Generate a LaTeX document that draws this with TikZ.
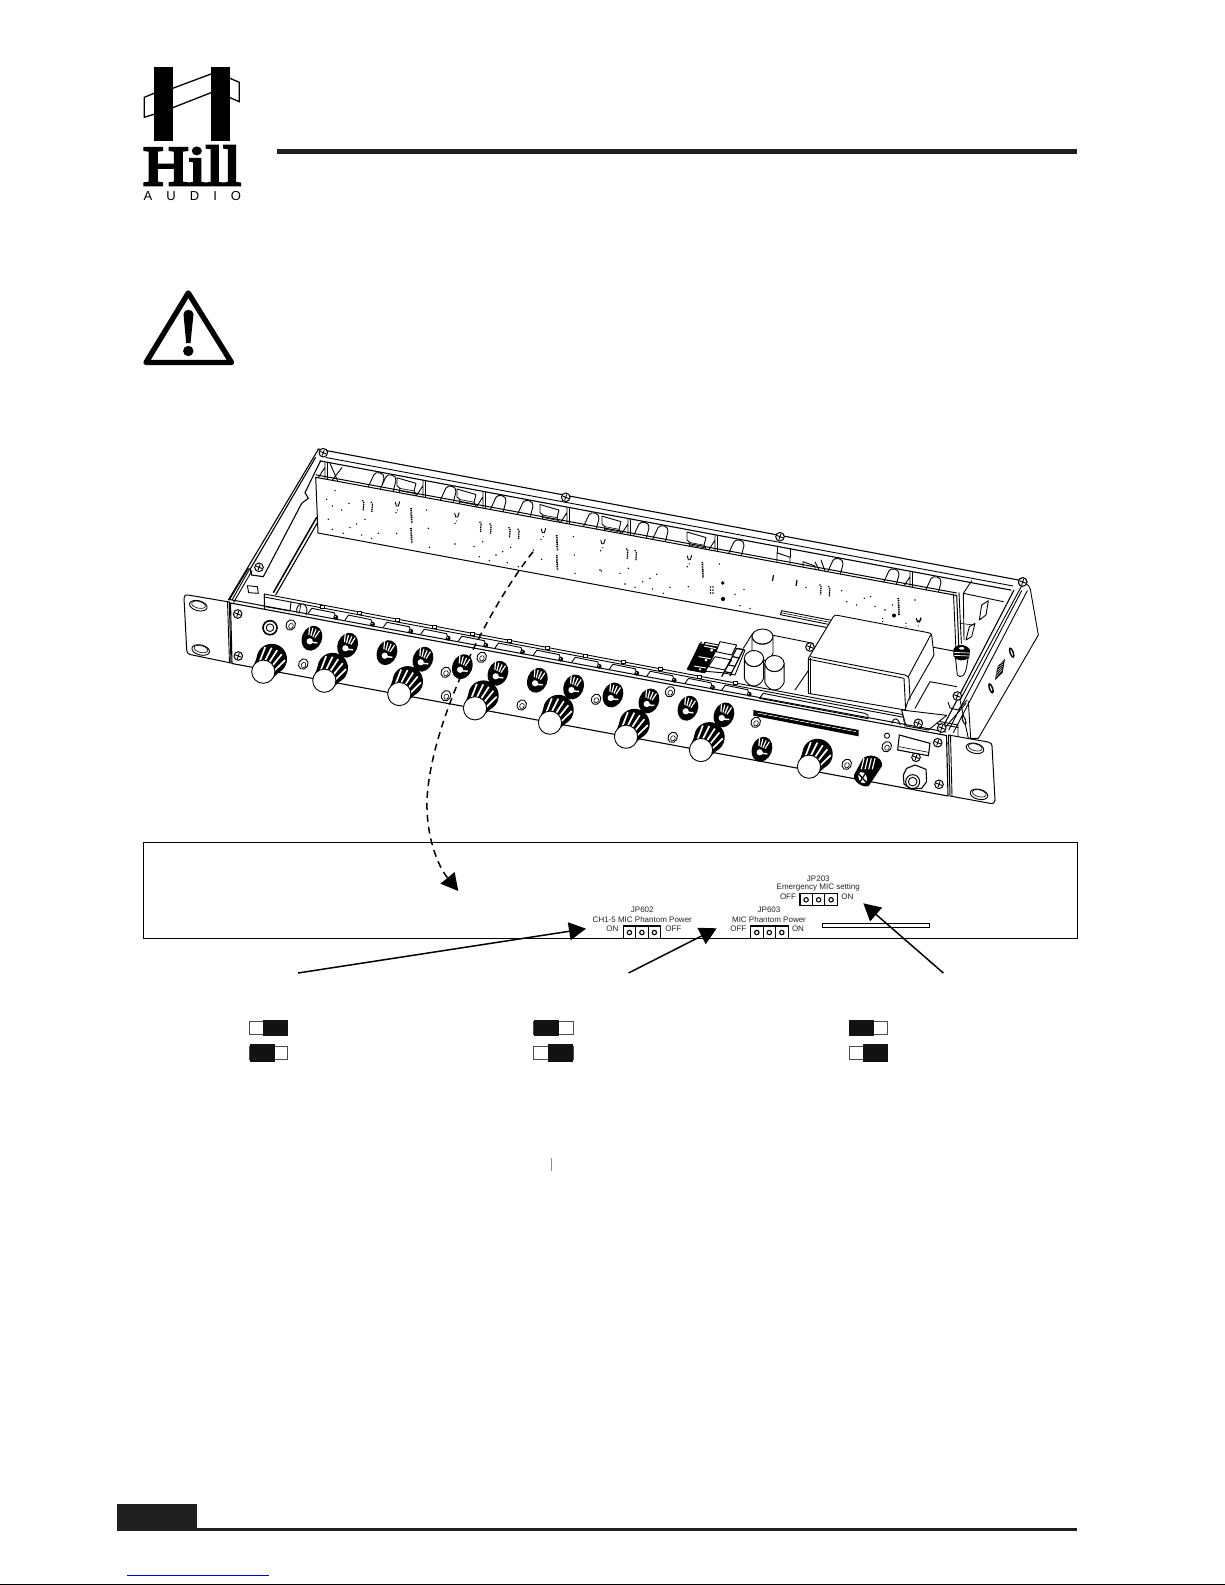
\documentclass[tikz,border=0pt]{standalone}
\usepackage{fontspec}
\setmainfont{Liberation Sans}
\newfontfamily\hillfont[FakeBold=5]{Liberation Serif}
\usetikzlibrary{arrows.meta}
\tikzset{
  dev/.style={line width=0.9pt,line join=round,line cap=round},
  thin dev/.style={line width=0.6pt,line join=round,line cap=round},
  zA/.style={shift={(170,440)},x=0.33333pt,y=-0.33333pt},
  zB/.style={shift={(600,480)},x=0.33333pt,y=-0.33333pt},
  zC/.style={shift={(680,610)},x=0.33333pt,y=-0.33333pt},
  zD/.style={shift={(940,560)},x=0.33333pt,y=-0.33333pt},
  wall/.style={shift={(318,449)},x={(1pt,-0.187pt)},y={(0pt,-1pt)}},
  jplabel/.style={font=\fontsize{8}{8.4}\selectfont,inner sep=0pt,text=black!85},
  jpbox/.style={draw=black,line width=1.1pt,fill=white},
  pull/.style={line width=1.5pt,draw=black,-{Triangle[length=17pt,width=18pt]}},
  toggleoff/.style={draw=black!70,line width=0.7pt,fill=white},
  toggleon/.style={fill=black!93,draw=none},
}
% big knob: cap centre
\newcommand{\bigknob}[2]{\begin{scope}[shift={(#1,#2)},x=1pt,y=-1pt]
  \fill[black] (-9.5,-6.3) -- (-4,-21) -- (21,-4.4) -- (9.5,6.3) -- cycle;
  \fill[black] (8.5,-12.7) circle (15.2);
  \foreach \t in {-0.8,-0.42,-0.02,0.38,0.78}{
    \pgfmathsetmacro{\s}{sqrt(1-\t*\t)}
    \draw[white,line width=1.7pt] ({\t*9.1+\s*6.1},{\t*6.1-\s*9.1}) -- ({8.5+\t*12.5+\s*5.6},{-12.7+\t*8.3-\s*8.6});
  }
  \draw[line width=0.9pt,fill=white] (0,0) circle (11.6);
\end{scope}}
% small knob: centre
\newcommand{\smallknob}[2]{\begin{scope}[shift={(#1,#2)},x=1pt,y=-1pt]
  \fill[black,rotate=-22] (0,1) ellipse (10 and 12.8);
  \foreach \t in {-0.8,-0.27,0.27,0.8}
    \draw[white,line width=1.2pt] ({\t*3.8-0.4},{\t*1.6-1}) -- ({\t*6.2+2.2},{\t*2.6-8.6});
  \fill[white] (-2.6,4) circle (3.1);
  \draw[white,line width=1.5pt] (-1,5) -- (5,5.5);
\end{scope}}
\newcommand{\screw}[2]{\begin{scope}[shift={(#1,#2)},x=1pt,y=-1pt]
  \draw[line width=1pt,fill=white] (0,0) circle (4.3);
  \draw[line width=0.9pt] (-3,-1.2) -- (3,1.2) (-1,2.8) -- (1,-2.8);
\end{scope}}
\newcommand{\led}[2]{\begin{scope}[shift={(#1,#2)},x=1pt,y=-1pt]
  \draw[dev,fill=white,rotate=-30] (0,0) ellipse (4.6 and 5.4);
  \draw[thin dev,rotate=-30] (0.7,0.7) ellipse (2.2 and 2.7);
\end{scope}}
\newcommand{\earhole}[2]{\begin{scope}[shift={(#1,#2)},x=1pt,y=-1pt]
  \draw[dev,fill=white,rotate=-14] (0,0) ellipse (9 and 5);
  \draw[thin dev,rotate=-14] (0,-1) ellipse (7 and 3.4);
\end{scope}}
\newcommand{\wslot}[1]{\draw[dev,fill=white] (#1,29) -- ({#1+6},15) .. controls ({#1+8},11) and ({#1+17},11) .. ({#1+16},17) -- ({#1+13},29);}
\newcommand{\wconn}[1]{\draw[dev,fill=white] (#1,14) -- ({#1+19},16) -- ({#1+17},24) -- ({#1+20},29) -- ({#1+2},29) -- ({#1+3},24) -- (#1,22) -- cycle;
  \draw[thin dev] ({#1+3},24) -- ({#1+17},24) ({#1+3},26.5) -- ({#1+18},26.5);}
\newcommand{\wpillar}[1]{\draw[dev] (#1,12) -- (#1,29) ({#1+2.5},12) -- ({#1+2.5},29) ({#1-7},29) -- (#1,17);}
\newcommand{\pintrip}[2]{\begin{scope}[shift={(#1,#2)},x=1pt,y=-1pt]
  \foreach \k in {-5,-3.2,-1.4,0.4,2.2,4}{\fill ({0.6*mod(\k+5,2)},\k) circle (0.85);}
\end{scope}}
\newcommand{\ucomp}[2]{\begin{scope}[shift={(#1,#2)},x=1pt,y=-1pt]
  \draw[line width=0.9pt] (-2,-2) -- (-1,2) -- (1,2) -- (2.5,-2.5);
  \fill (0,6) circle (0.6);
\end{scope}}
\newcommand{\pottab}[1]{\begin{scope}[shift={(#1,{608.3+0.186*(#1-308.3)})},x=1pt,y=-1pt]
  \draw[dev,fill=white] (0,5) -- (3.5,0) -- (26,4.5) -- (27.5,9.5);
  \draw[thin dev,fill=white] (12,-3.5) rectangle (16,-0.5);
  \fill (27.5,9) circle (2.4);
  \fill[white] (27,8.5) circle (0.7);
\end{scope}}
\newcommand{\capac}[5]{\draw[dev,fill=white] ({#1-#3},#2) -- ({#1-#3},{#2+#5}) .. controls ({#1-#3+4},{#2+#5+#4+2}) and ({#1+#3-4},{#2+#5+#4+2}) .. ({#1+#3},{#2+#5}) -- ({#1+#3},#2);
  \draw[dev,fill=white] (#1,#2) ellipse (#3 and #4);
  \draw[line width=0.5pt] ({#1-#3+0.3},{#2+1.6}) .. controls ({#1-#3+4},{#2+#4+2.6}) and ({#1+#3-4},{#2+#4+2.6}) .. ({#1+#3-0.3},{#2+1.6});}
\begin{document}
\begin{tikzpicture}[x=1pt,y=-1pt]
\useasboundingbox (0,0) rectangle (1225,1585);
\fill[white] (0,0) rectangle (1225,1585);

% ---- logo
\fill[black] (154,66.7) rectangle (172.7,140.7);
\fill[black] (211,66.7) rectangle (230,140.7);
\draw[line width=1.3pt,line join=miter] (154,93.3) -- (144.3,97.3) -- (144.3,117.3) -- (154,114.3);
\draw[line width=1.3pt] (172.7,88.3) -- (211,74) (172.7,107.7) -- (211,92.7);
\draw[line width=1.3pt,line join=miter] (230,78.3) -- (239.3,82.3) -- (239.3,101.7) -- (230,97.7);
\node[anchor=base west,inner sep=0pt,xscale=1.12] (hillword) at (143,185) {\fontsize{56}{56}\hillfont Hill};
\node[anchor=base west,inner sep=0pt] (audioword) at (143.5,200) {\fontsize{13}{13}\selectfont\addfontfeature{LetterSpace=108}AUDIO};

% ---- header and footer rules
\fill[black!88] (277,149) rectangle (1077,154);
\fill[black!88,fill=black!88] (117,1504) rectangle (197,1531);
\fill[black!88] (117,1528) rectangle (1077,1531);
\draw[blue!80!black,line width=1pt] (127,1575.5) -- (269,1575.5);
\draw[black,line width=1pt] (0,1584.6) -- (1225,1584.6);

% ---- warning triangle
\draw[line width=5.4pt,line join=round,fill=white] (188.3,293) -- (231.5,362.5) -- (146,362.5) -- cycle;
\fill[black] (183.5,314) .. controls (183.5,308.5) and (193.5,308.5) .. (193.5,314) -- (190.5,343) -- (186.2,343) -- cycle;
\fill[black] (188.3,351) circle (5.2);

% ---- settings box
\draw[black,line width=1pt] (143.5,842) rectangle (1077,938);
\draw[black,line width=1pt,fill=white] (822.3,923.3) rectangle (929.3,927.3);

% ---- chassis: back wall
\begin{scope}[wall]
  \draw[line width=1.1pt,line cap=round] (0,0) -- (702,0);
  \draw[dev] (8,7) -- (695,7);
  \draw[line width=1.1pt,line cap=round] (2,11.5) -- (693,11.5);
  \wpillar{7}
  \draw[dev] (12,12) -- (20,29) (24,14) -- (14,29);
  \foreach \u in {50,62,122,172,199,265,315,334,410,509,565,607} {\wslot{\u}}
  \foreach \u in {79,139,222,284,369} {\wconn{\u}}
  \foreach \u in {105,165,249,310,397,592} {\wpillar{\u}}
  \draw[dev,fill=white] (459,18) -- (472,20) -- (472,29) -- (459,29) -- cycle;
  \draw[dev] (459,11) -- (459,18) (472,11) -- (472,20);
  \draw[dev,fill=white] (485,22) -- (497,24) -- (497,31) -- (485,30) -- cycle;
  \draw[dev] (497,20) -- (503,31) (503,17) -- (508,30);
\end{scope}

% ---- chassis: right rear corner and right side wall
\begin{scope}[zD]
  \draw[dev] (70,100) -- (95,62) (70,100) -- (72,240) (57,98) -- (64,250);
  \draw[dev] (70,100) -- (190,125);
  \draw[dev,fill=white] (118,180) -- (125,135) -- (145,122) -- (138,165) -- cycle;
  \draw[dev,fill=white] (78,240) -- (88,200) -- (105,190) -- (95,230) -- cycle;
  \draw[thin dev] (60,190) -- (100,195);
\end{scope}

% ---- chassis: left wall
\begin{scope}[zA]
  \draw[line width=1.1pt] (445,28) -- (175,480);
  \draw[line width=1.1pt] (437,52) -- (242,385);
  \draw[line width=1.1pt] (452,62) -- (405,158) -- (415,175) -- (395,190) -- (280,410) -- (245,405) -- (240,385);
  \draw[line width=1.5pt] (440,232) -- (310,458);
  \draw[line width=1.1pt] (447,240) -- (317,465);
  \draw[dev] (235,385) -- (178,480) (240,385) -- (186,480) (246,392) -- (191,487);
  \draw[dev,fill=white] (232,437) -- (262,440) -- (265,460) -- (236,458) -- cycle;
\end{scope}
\screw{259}{567.3}
\screw{323.3}{452.7}
\screw{565.7}{497.3}
\screw{780}{536.7}
\screw{1022.7}{582}

% ---- PCB
\draw[line width=1pt,line join=round,fill=white] (315.7,477.3) -- (956.7,595.5) -- (959,652) -- (318,533) -- cycle;
\draw[line width=1pt] (315.7,474.8) -- (956.7,593);
\draw[dev] (953.5,594) -- (956,651);
\foreach \x/\y in {362.7/505.7,371.3/507.3,480/527.3,490/529,509/532.7,518/534.3,626.7/554,635.3/555.7,820/590,828.7/591.7}{\pintrip{\x}{\y}}
\foreach \x/\a/\b in {411/508/523,411/528/543,556.7/535/551,556.7/555/570,702.3/562/578,898.3/598/615}
  {\draw[line width=1.7pt,dash pattern=on 1.1pt off 0.7pt] (\x,\a) -- ({\x+0.8},\b);}
\foreach \x/\y in {397.3/504,456.7/515,543.3/530.7,602.7/541.7,689.3/557.7,918.3/620}{\ucomp{\x}{\y}}
\fill (722.7,583) circle (1.9) (723,599) circle (2.1) (894,615.5) circle (2);
\draw[line width=1.2pt] (773.5,575) -- (772.5,581) (797,580) -- (796,586);
\fill (710.5,587) circle (0.9) (710.5,590) circle (0.9) (710.5,593) circle (0.9) (713,587) circle (0.9) (713,590) circle (0.9) (713,593) circle (0.9);
\begin{scope}[zA]
  \foreach \x/\y in {495/152,470/178,487/198,515/210,537/190,475/238,560/252,540/263,487/268,520/280,575/285,605/295,625/280,680/280,585/238,678/218,770/210,775/265,778/322,855/250,855/312,912/320,938/305,978/345,998/335,1022/322,928/350,958/362,1012/368,1045/380,1113/298,1090/330,1115/358,1210/290,1213/345,1215/400,1292/332,1295/393}
    {\fill (\x,\y) circle (2.3);}
\end{scope}
\begin{scope}[zB]
  \foreach \x/\y in {85/265,60/280,128/305,150/295,170/283,105/322,158/327,190/340,210/322,265/320,262/260,358/252,405/343,432/328,420/377,450/385,618/323,725/332,740/365,770/375,793/355,812/350,825/380,855/390,878/375,945/360,0/270,75/312}
    {\fill (\x,\y) circle (2.3);}
\end{scope}

% ---- interior: rail, lines, transformer, capacitors, terminal block
\begin{scope}[zB]
  \draw[dev,fill=white] (545,392) -- (700,422) -- (700,436) -- (541,404) -- cycle;
  \draw[thin dev] (543,398) -- (700,429);
  \draw[dev] (515,465) -- (640,490);
  \draw[dev] (585,630) -- (640,550);
  \draw[dev] (945,685) -- (990,605) -- (1070,620);
  % transformer
  \draw[dev,fill=white] (625,640) -- (625,535) -- (700,410) .. controls (703,405) and (708,405) .. (712,406) -- (985,458) .. controls (992,459) and (995,462) .. (995,466) -- (1002,525) -- (925,660) -- (915,690) -- cycle;
  \draw[dev] (632,530) -- (915,585) .. controls (922,587) and (925,590) .. (927,596) -- (930,660);
  \draw[dev] (627,538) -- (912,595) -- (917,690);
  \draw[dev] (925,590) -- (992,465);
  \draw[dev] (632,535) -- (632,640);
  \fill (848,415) circle (2) (848,425) circle (2) (918,430) circle (2) (918,440) circle (2);
  \draw[dev] (952,420) -- (958,426) -- (964,416);
  % standoff nut
  \draw[dev,fill=white] (1066,530) -- (1072,585) .. controls (1082,595) and (1095,590) .. (1100,560) -- (1105,530);
  \fill[black] (1060,510) .. controls (1065,490) and (1100,490) .. (1110,510) -- (1108,532) .. controls (1095,545) and (1070,545) .. (1060,528) -- cycle;
  \draw[white,line width=0.7pt] (1062,517) -- (1108,519) (1062,526) -- (1108,528);
  \fill[white] (1085,505) ellipse (8 and 4);
\end{scope}
\screw{810}{647}
\capac{762.5}{636.5}{10.5}{7.5}{17}
\capac{754}{658.5}{9.6}{8}{20}
\capac{774.5}{663.5}{9.6}{8}{19}
\begin{scope}[zC]
  \draw[dev] (218,70) -- (190,115);
  \draw[dev,fill=white] (75,97) -- (195,120) -- (165,195) -- (125,188) -- (30,180) -- cycle;
  \draw[line width=1.2pt] (64,96) -- (22,178) (75,97) -- (35,180);
  \fill[black] (58,100) -- (115,110) -- (75,190) -- (22,180) -- cycle;
  \fill[white] (95,120) circle (5) (78,150) circle (5) (60,178) circle (4);
  \draw[white,line width=1pt] (72,108) -- (108,116) (56,140) -- (92,146) (42,168) -- (78,174);
  \draw[dev,fill=white] (120,95) -- (170,105) -- (155,135) -- (108,125) -- cycle;
  \draw[dev,fill=white] (105,140) -- (155,150) -- (135,180) -- (85,170) -- cycle;
  \draw[line width=1.2pt] (170,115) -- (190,119) (158,140) -- (178,144) (146,165) -- (166,169) (134,185) -- (154,189);
  \draw[line width=1.2pt] (170,115) -- (125,200) (190,119) -- (150,198);
\end{scope}

% ---- front rail and pot tabs
\draw[dev,fill=white] (264.3,594) -- (958,725) -- (958,745) -- (264.3,620) -- cycle;
\draw[dev] (264.3,597) -- (958,727.5);
\draw[dev] (264.3,594) -- (264.6,604);
\draw[dev] (264.5,606.5) -- (290,611) -- (291,602);
\draw[dev,fill=white] (297,613) .. controls (295,607) and (300,603) .. (303,604) .. controls (307,605) and (308,610) .. (306,615);
\draw[thin dev] (301,604) -- (299,614);
\foreach \x in {308.3,345,383.3,420.7,458.3,495,533.3,571.7,609.3,646.7,685,721.7}{\pottab{\x}}
\begin{scope}[zB]
  \draw[dev,fill=white] (478,655) -- (490,640) -- (795,700) .. controls (803,702) and (808,708) .. (804,716) -- cycle;
  \draw[thin dev] (905,690) -- (915,740);
  \draw[dev,fill=white] (905,690) -- (1040,706) -- (985,750) -- (918,738) -- cycle;
  \draw[dev] (875,730) .. controls (880,712) and (895,710) .. (900,735);
\end{scope}

% ---- right side flange
\begin{scope}[zD]
  \draw[dev,fill=white] (248,72) .. controls (265,70) and (270,80) .. (271,88) -- (295,225) -- (115,535) -- (85,535) -- (60,420) -- cycle;
  \draw[line width=1.1pt] (222,90) -- (12,495);
  \draw[dev] (245,92) -- (26,510);
  \draw[dev] (262,92) -- (40,518);
  \draw[dev] (85,425) -- (92,535);
  \draw[dev] (78,430) -- (0,520);
  \fill[black,rotate around={20:(72,480)}] (72,480) ellipse (6 and 16);
  \fill[white,rotate around={20:(72,480)}] (72,480) ellipse (2 and 10);
  \fill[black,rotate around={20:(215,278)}] (215,278) ellipse (7 and 17);
  \fill[white,rotate around={20:(215,278)}] (215,278) ellipse (2 and 10);
  \fill[black,rotate around={20:(153,385)}] (153,385) ellipse (7 and 17);
  \fill[white,rotate around={20:(153,385)}] (153,385) ellipse (2 and 10);
  \fill[black] (165,360) -- (172,320) -- (195,296) -- (188,338) -- cycle;
  \foreach \k in {0,1,2,3,4,5}{\draw[white,line width=0.4pt] ({168+\k*1},{350-\k*9}) -- ({186+\k*1},{330-\k*6});}
\end{scope}
\screw{1022.7}{582}
\screw{957.3}{696}
\draw[dev] (948,702) -- (950,708) -- (958,710) -- (967,700);

% ---- front panel and ears
\draw[line width=1pt,fill=white,line join=round] (184,598) .. controls (184,595) and (186,594.5) .. (188,595) -- (229.3,602) -- (231,663) -- (190,654.5) .. controls (187.5,654) and (186.8,652) .. (186.7,650) -- cycle;
\draw[line width=1pt,fill=white,line join=round] (948.5,735) -- (988,742) .. controls (991,742.5) and (992,744) .. (992,746) -- (995,800) .. controls (995,803) and (993,804) .. (991,803.5) -- (950,796) -- cycle;
\draw[line width=1.1pt,fill=white,line join=round] (230.5,603) -- (946.5,735.5) -- (948,796) -- (232,663.5) -- cycle;
\draw[line width=1pt] (229.5,599.5) -- (946,732);
\draw[dev] (227.5,602) -- (229.5,663) (950.5,735) -- (952,796);
\earhole{198.3}{605.7}
\earhole{200.7}{650}
\earhole{975}{748.3}
\earhole{979}{794.3}

% ---- dashed pull-out curve
\coordinate (curvestart) at (533,551.7);
\coordinate (curveend) at (458.3,891);
\draw[line width=1.5pt,dash pattern=on 7pt off 5pt,-{Triangle[length=17pt,width=18pt,sep=0pt]}] (curvestart) .. controls (480,620) and (430,730) .. (427,800) .. controls (426,835) and (437,865) .. (curveend);

% ---- panel details
\foreach \x/\y in {290.7/625,303.3/664,481.7/657.3,445.7/672.3,446/695.7,521.7/705,596/699.3,670/691.7,672.7/737.3,755.7/722.3,846.7/764.3,886.7/746.7}{\led{\x}{\y}}
\draw[dev,fill=white] (887,735.7) circle (2.6);
\draw[line width=1.6pt,fill=white] (270,627.7) circle (7);
\draw[dev] (270,627.7) circle (3.8);
\foreach \x/\y in {312.3/637.3,348/644.3,387.3/651.7,423.3/658.3,462.7/665.7,498.3/672.3,537.7/679.3,574/686,613.3/694,649.3/700,688.3/707.3,724.3/714,762.3/748.3}{\smallknob{\x}{\y}}
\foreach \x/\y in {263.3/671.7,324.3/680.7,399.3/694,475/708.3,550/722.7,626/736.7,701/750,809/766.7}{\bigknob{\x}{\y}}
\foreach \x/\y in {237.7/614,238.3/656,918.3/723.3,937.7/742.7,916/757.3,939/784.3,941.7/728}{\screw{\x}{\y}}
% display strip
\begin{scope}[zB]
  \fill[black] (460,690) -- (776,750) -- (776,769) -- (460,707) -- cycle;
  \draw[white,line width=0.6pt,dash pattern=on 10pt off 0.8pt] (472,699) -- (768,755);
  % power switch
  \draw[line width=1.1pt,fill=white] (898,765) -- (990,790) -- (985,827) -- (893,810) -- cycle;
  \draw[thin dev] (897,800) -- (986,817);
  % toggle
  \fill[black] (787,838) .. controls (805,815) and (850,830) .. (846,858) -- (806,918) .. controls (790,925) and (758,905) .. (762,885) -- cycle;
  \fill[white,rotate around={22:(788,893)}] (788,893) ellipse (12 and 18);
  \draw[line width=1.3pt] (776,882) -- (800,908) (798,878) -- (778,908);
  \foreach \k in {-14,-3,8,19}{\draw[white,line width=1.2pt] ({806+\k},835) -- ({798+\k},868);}
  % jack
  \draw[line width=1.1pt,fill=white] (910,885) -- (920,865) -- (945,855) -- (978,868) -- (980,905) -- (965,925) -- (930,925) -- (912,912) -- cycle;
  \draw[line width=1pt] (938,905) circle (21);
  \draw[dev] (938,905) circle (13);
\end{scope}

% ---- jumper labels and blocks
\node[jplabel] (jp203t) at (818.3,878.3) {JP203};
\node[jplabel] (jp203d) at (818.3,887.3) {Emergency MIC setting};
\node[jplabel] (jp203off) at (788,897) {OFF};
\node[jplabel] (jp203on) at (847.3,897) {ON};
\node[jplabel] (jp603t) at (769,910) {JP603};
\node[jplabel] (jp603d) at (769,919.3) {MIC Phantom Power};
\node[jplabel] (jp603off) at (738.3,928.7) {OFF};
\node[jplabel] (jp603on) at (798,928.7) {ON};
\node[jplabel] (jp602t) at (642.3,910) {JP602};
\node[jplabel] (jp602d) at (642.3,919.3) {CH1-5 MIC Phantom Power};
\node[jplabel] (jp602on) at (612.3,928.7) {ON};
\node[jplabel] (jp602off) at (673.3,928.7) {OFF};
\foreach \x/\y in {800/893.3,750.7/926,623.3/926}{
  \draw[jpbox] (\x,\y) rectangle ({\x+37.4},{\y+12.5});
  \draw[line width=1.1pt] ({\x+12.4},\y) -- ({\x+12.4},{\y+12.5}) ({\x+24.9},\y) -- ({\x+24.9},{\y+12.5});
  \foreach \k in {6.1,18.6,31.1}{\draw[line width=1.1pt] ({\x+\k},{\y+6.5}) circle (2.2);}
}

% ---- pointer arrows
\coordinate (a1s) at (298,973);
\coordinate (a1t) at (586,928.7);
\coordinate (a2s) at (628.5,973);
\coordinate (a2t) at (716.7,928.3);
\coordinate (a3s) at (943.3,973);
\coordinate (a3t) at (863.3,903.3);
\draw[pull] (a1s) -- (a1t);
\draw[pull] (a2s) -- (a2t);
\draw[pull] (a3s) -- (a3t);

% ---- jumper position legends
\foreach \ax/\bx/\kx/\y/\h in {249.5/287.5/262.5/1021/0,249.5/287.5/249.5/1046/1,533.7/573/533.7/1021/0,533.7/573/547.5/1046/1,849/887.5/849/1021/0,849/887.5/862.5/1046/1}{
  \draw[toggleoff] (\ax,\y) rectangle (\bx,{\y+13.3});
  \fill[toggleon] (\kx,{\y-1-\h}) rectangle ({\kx+25.2},{\y+15+\h});
}
\draw[black!45,line width=0.6pt] (551.5,1158) -- (551.5,1170.5);
\end{tikzpicture}
\end{document}
